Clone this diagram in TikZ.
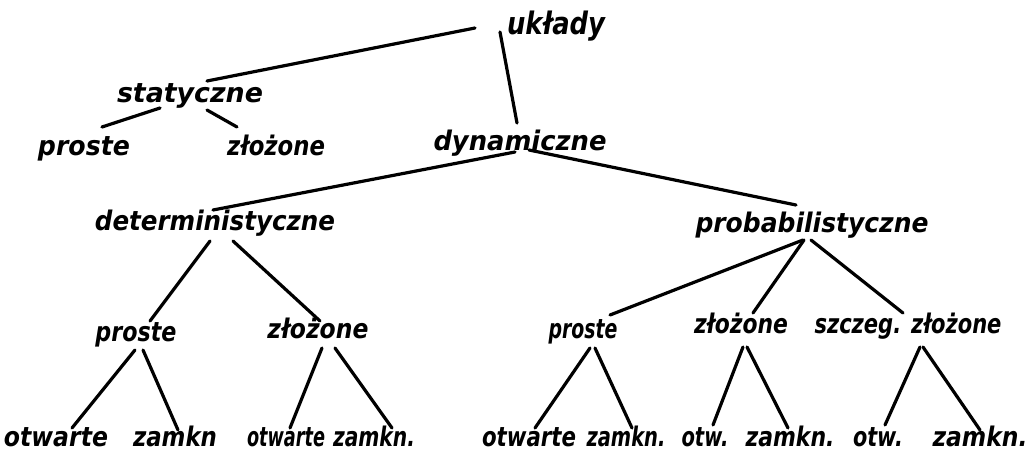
\documentclass[tikz,border=0pt]{standalone}
\usepackage{fontspec}
\usepackage{graphicx}
\newfontfamily\hand{DejaVu Sans}
% set a word to a given width, keeping its height
\newcommand\fitw[2]{\resizebox{#1pt}{\height}{#2}}
\tikzset{
  lbl/.style={anchor=base, inner sep=0pt, outer sep=0pt,
    font=\hand\bfseries\itshape\fontsize{27}{30}\selectfont},
  big/.style={font=\hand\bfseries\itshape\fontsize{31}{34}\selectfont},
  link/.style={line width=3.2pt, line cap=round, line join=round}
}
\begin{document}
\begin{tikzpicture}[x=1pt, y=-1pt]
\useasboundingbox[fill=white] (0,0) rectangle (1036,458);

% root and first level
\node[lbl,big] (u)  at (556,34)  {\fitw{98}{układy}};
\node[lbl] (st) at (190,102) {\fitw{146}{statyczne}};
\node[lbl] (sp) at (84,155)  {\fitw{92}{proste}};
\node[lbl] (sz) at (276,155) {\fitw{98}{złożone}};
\node[lbl] (dy) at (520,150) {\fitw{173}{dynamiczne}};

% second level
\node[lbl] (de) at (215,230) {\fitw{240}{deterministyczne}};
\node[lbl] (pr) at (812,232) {\fitw{233}{probabilistyczne}};

% third level
\node[lbl] (dp) at (136,341) {\fitw{81}{proste}};
\node[lbl] (dz) at (318,338) {\fitw{101}{złożone}};
\node[lbl] (pp) at (583,338) {\fitw{69}{proste}};
\node[lbl] (pz) at (741,333) {\fitw{94}{złożone}};
\node[lbl] (ps) at (908,333) {\fitw{187}{szczeg. złożone}};

% leaves
\node[lbl] (a1)  at (56,446)  {\fitw{104}{otwarte}};
\node[lbl] (a2)  at (175,446) {\fitw{84}{zamkn}};
\node[lbl] (a3)  at (286,446) {\fitw{78}{otwarte}};
\node[lbl] (a4)  at (374,446) {\fitw{82}{zamkn.}};
\node[lbl] (a5)  at (529,446) {\fitw{94}{otwarte}};
\node[lbl] (a6)  at (626,446) {\fitw{79}{zamkn.}};
\node[lbl] (a7)  at (705,446) {\fitw{47}{otw.}};
\node[lbl] (a8)  at (790,446) {\fitw{89}{zamkn.}};
\node[lbl] (a9)  at (878,446) {\fitw{50}{otw.}};
\node[lbl] (a10) at (980,446) {\fitw{95}{zamkn.}};

% branches
\draw[link] ([shift={(-81,-6)}]u.base)  -- ([shift={(17,-21)}]st.base);
\draw[link] ([shift={(-56,-2)}]u.base)  -- ([shift={(-3,-27)}]dy.base);
\draw[link] ([shift={(-30,6)}]st.base)  -- ([shift={(18,-28)}]sp.base);
\draw[link] ([shift={(17,8)}]st.base)   -- ([shift={(-39,-28)}]sz.base);
\draw[link] ([shift={(-5,2)}]dy.base)   -- ([shift={(-2,-20)}]de.base);
\draw[link] ([shift={(9,0)}]dy.base)    -- ([shift={(-16,-27)}]pr.base);

\draw[link] ([shift={(-5,11)}]de.base)  -- ([shift={(14,-20)}]dp.base);
\draw[link] ([shift={(18,11)}]de.base)  -- ([shift={(2,-17)}]dz.base);
\draw[link] ([shift={(-9,8)}]pr.base)   -- ([shift={(27,-23)}]pp.base);
\draw[link] ([shift={(-8,8)}]pr.base)   -- ([shift={(12,-20)}]pz.base);
\draw[link] ([shift={(-1,8)}]pr.base)   -- ([shift={(-5,-20)}]ps.base);

\draw[link] ([shift={(-1,9)}]dp.base)   -- ([shift={(16,-18)}]a1.base);
\draw[link] ([shift={(7,9)}]dp.base)    -- ([shift={(3,-16)}]a2.base);
\draw[link] ([shift={(4,10)}]dz.base)   -- ([shift={(4,-18)}]a3.base);
\draw[link] ([shift={(17,10)}]dz.base)  -- ([shift={(18,-18)}]a4.base);
\draw[link] ([shift={(7,10)}]pp.base)   -- ([shift={(6,-18)}]a5.base);
\draw[link] ([shift={(12,10)}]pp.base)  -- ([shift={(6,-18)}]a6.base);
\draw[link] ([shift={(2,14)}]pz.base)   -- ([shift={(8,-21)}]a7.base);
\draw[link] ([shift={(6,14)}]pz.base)   -- ([shift={(-2,-18)}]a8.base);
\draw[link] ([shift={(12,14)}]ps.base)  -- ([shift={(7,-21)}]a9.base);
\draw[link] ([shift={(15,14)}]ps.base)  -- ([shift={(0,-16)}]a10.base);
\end{tikzpicture}
\end{document}
